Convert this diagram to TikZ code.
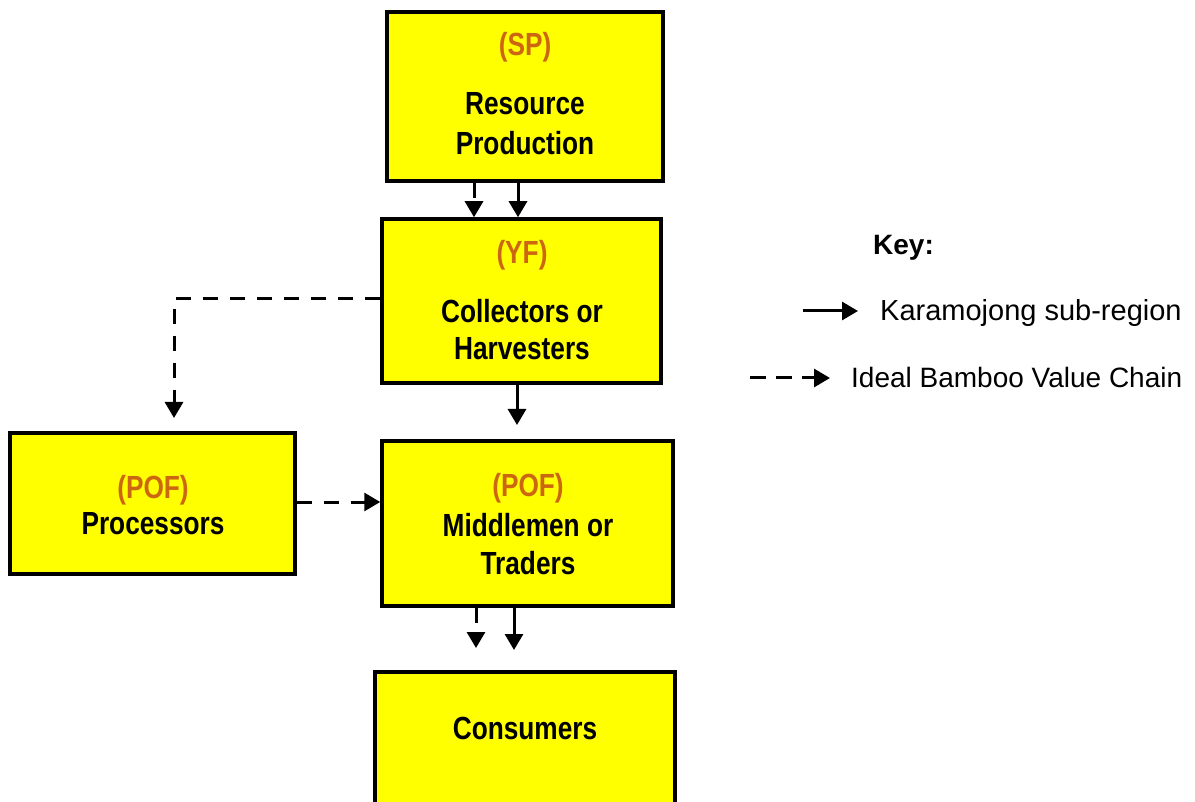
\documentclass[tikz,border=0pt]{standalone}
\usepackage{fontspec}
\setmainfont{Liberation Sans}
\newfontfamily\nbf[FakeStretch=0.82]{Liberation Sans}
\usetikzlibrary{arrows.meta}
\definecolor{boxyellow}{RGB}{255,255,0}
\definecolor{codeorange}{RGB}{204,102,17}
\tikzset{
  box/.style={draw=black, line width=3.5pt, fill=boxyellow, inner sep=0pt},
  btxt/.style={anchor=base, inner sep=0pt, font=\nbf\bfseries\fontsize{32}{38}\selectfont},
  otxt/.style={btxt, text=codeorange},
  ktxt/.style={anchor=base west, inner sep=0pt, font=\fontsize{28}{34}\selectfont},
  sol/.style={line width=3pt, -{Triangle[length=16pt,width=18pt]}},
  dsh/.style={line width=3pt, dash pattern=on 15pt off 12pt, -{Triangle[length=16pt,width=18pt]}},
}
\begin{document}
\begin{tikzpicture}[x=1pt,y=-1pt]
\clip (0,0) rectangle (1195,802);
\useasboundingbox (0,0) rectangle (1195,802);
\fill[white] (0,0) rectangle (1195,802);
% boxes
\node[box, minimum width=276pt, minimum height=169pt] (sp) at (525,96.5) {};
\node[box, minimum width=279pt, minimum height=164pt] (yf) at (521.5,301) {};
\node[box, minimum width=291pt, minimum height=165pt] (mt) at (527.5,523.5) {};
\node[box, minimum width=285pt, minimum height=141pt] (pr) at (152.5,503.5) {};
\node[box, minimum width=300pt, minimum height=168pt] (co) at (525,756) {};
% texts
\node[otxt] (spa) at (525,56) {(SP)};
\node[btxt] (spb) at (525,115) {Resource};
\node[btxt] (spc) at (525,155) {Production};
\node[otxt] (yfa) at (522,264) {(YF)};
\node[btxt] (yfb) at (522,323) {Collectors or};
\node[btxt] (yfc) at (522,360) {Harvesters};
\node[otxt] (mta) at (528,496) {(POF)};
\node[btxt] (mtb) at (528,536) {Middlemen or};
\node[btxt] (mtc) at (528,574) {Traders};
\node[otxt] (pra) at (153,498) {(POF)};
\node[btxt] (prb) at (153,534) {Processors};
\node[btxt] (coa) at (525,739) {Consumers};
% connectors
\coordinate (yfm) at (517,425);
\coordinate (cod) at (476,648);
\coordinate (cos) at (514,650);
\coordinate (bend) at (174,299);
\coordinate (prtop) at (174,418);
\draw[dsh] (sp.south -| 474,0) -- (yf.north -| 474,0);
\draw[sol] (sp.south -| 518,0) -- (yf.north -| 518,0);
\draw[sol] (yf.south -| yfm) -- (yfm);
\draw[dsh] (mt.south -| cod) -- (cod);
\draw[sol] (mt.south -| cos) -- (cos);
\draw[dsh] (yf.west |- bend) -- (bend) -- (prtop);
\draw[dsh] (pr.east |- 0,502) -- (mt.west |- 0,502);
% key
\node[ktxt, font=\bfseries\fontsize{28}{34}\selectfont] (key) at (873,255) {Key:};
\node[ktxt, font=\fontsize{29}{34}\selectfont] (k1) at (880,321) {Karamojong sub-region};
\node[ktxt] (k2) at (851,388) {Ideal Bamboo Value Chain};
\coordinate (k1s) at (803,311);
\coordinate (k2s) at (750,378);
\draw[sol] (k1s) -- (k1s -| 858,0);
\draw[line width=3pt, dash pattern=on 16pt off 10pt, -{Triangle[length=16pt,width=18pt]}] (k2s) -- (k2s -| 830,0);
\end{tikzpicture}
\end{document}
